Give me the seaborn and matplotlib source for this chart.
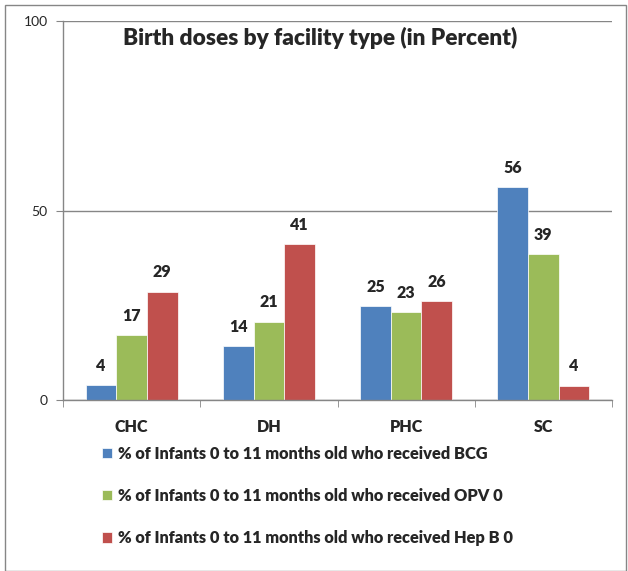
import pandas as pd
import matplotlib.pyplot as plt
import seaborn as sns
from matplotlib.patches import Rectangle

# Data
facilities = ['CHC', 'DH', 'PHC', 'SC']
bcg = [3.9, 14.3, 24.9, 56.2]
opv0 = [17.1, 20.7, 23.3, 38.6]
hepb0 = [28.6, 41.1, 26.1, 3.8]
series_names = [
    '% of Infants 0 to 11 months old who received BCG',
    '% of Infants 0 to 11 months old who received OPV 0',
    '% of Infants 0 to 11 months old who received Hep B 0',
]
colors = ['#4F81BD', '#9BBB59', '#C0504D']

df = pd.DataFrame({
    'Facility': facilities * 3,
    'Series': [s for s in series_names for _ in facilities],
    'Value': bcg + opv0 + hepb0,
})

sns.set_style('white')
plt.rcParams['font.family'] = ['Lato', 'DejaVu Sans']

fig = plt.figure(figsize=(6.28, 5.71), dpi=100)
ax = fig.add_axes([63 / 628, 1 - 400 / 571, 549 / 628, 379 / 571])

sns.barplot(data=df, x='Facility', y='Value', hue='Series', hue_order=series_names,
            palette=colors, saturation=1, width=0.67, errorbar=None, ax=ax,
            edgecolor='white', linewidth=0.5)

for cont in ax.containers:
    ax.bar_label(cont, labels=[f'{round(b.get_height())}' for b in cont],
                 padding=8, fontsize=11.5, fontweight='heavy')

ax.set_ylim(0, 100)
ax.set_xlim(-0.5, 3.5)
ax.set_yticks([0, 50, 100])
ax.set_yticklabels(['0', '50', '100'], fontsize=10)
ax.set_xticks([-0.5, 0.5, 1.5, 2.5, 3.5], minor=True)
ax.tick_params(axis='x', which='major', length=0, pad=14, labelsize=11.5)
ax.tick_params(axis='x', which='minor', length=5, color='#868686', direction='out', bottom=True)
ax.tick_params(axis='y', length=5, color='#868686', direction='out', left=True, pad=6)
for lbl in ax.get_xticklabels():
    lbl.set_fontweight('heavy')
ax.set_xlabel('')
ax.set_ylabel('')

ax.yaxis.grid(True, color='#868686', linewidth=1)
ax.set_axisbelow(True)
for side in ['top', 'right']:
    ax.spines[side].set_visible(False)
for side in ['left', 'bottom']:
    ax.spines[side].set_color('#868686')
    ax.spines[side].set_linewidth(1)

ax.text(0.468, 0.985, 'Birth doses by facility type (in Percent)', transform=ax.transAxes,
        ha='center', va='top', fontsize=16.3, fontweight='heavy')

handles, labels = ax.get_legend_handles_labels()
ax.legend(handles, labels, loc='upper left', bbox_to_anchor=(87 / 628, 1 - 431 / 571),
          bbox_transform=fig.transFigure, frameon=False, handlelength=0.6, handleheight=0.6,
          handletextpad=0.4, labelspacing=1.6, prop={'weight': 'heavy', 'size': 11.8})

# light border around the whole chart
fig.patches.append(Rectangle((5 / 628, 0), 621 / 628, 1 - 5 / 571, transform=fig.transFigure,
                             fill=False, edgecolor='#868686', linewidth=1))

fig.savefig('out.png', dpi=100)
